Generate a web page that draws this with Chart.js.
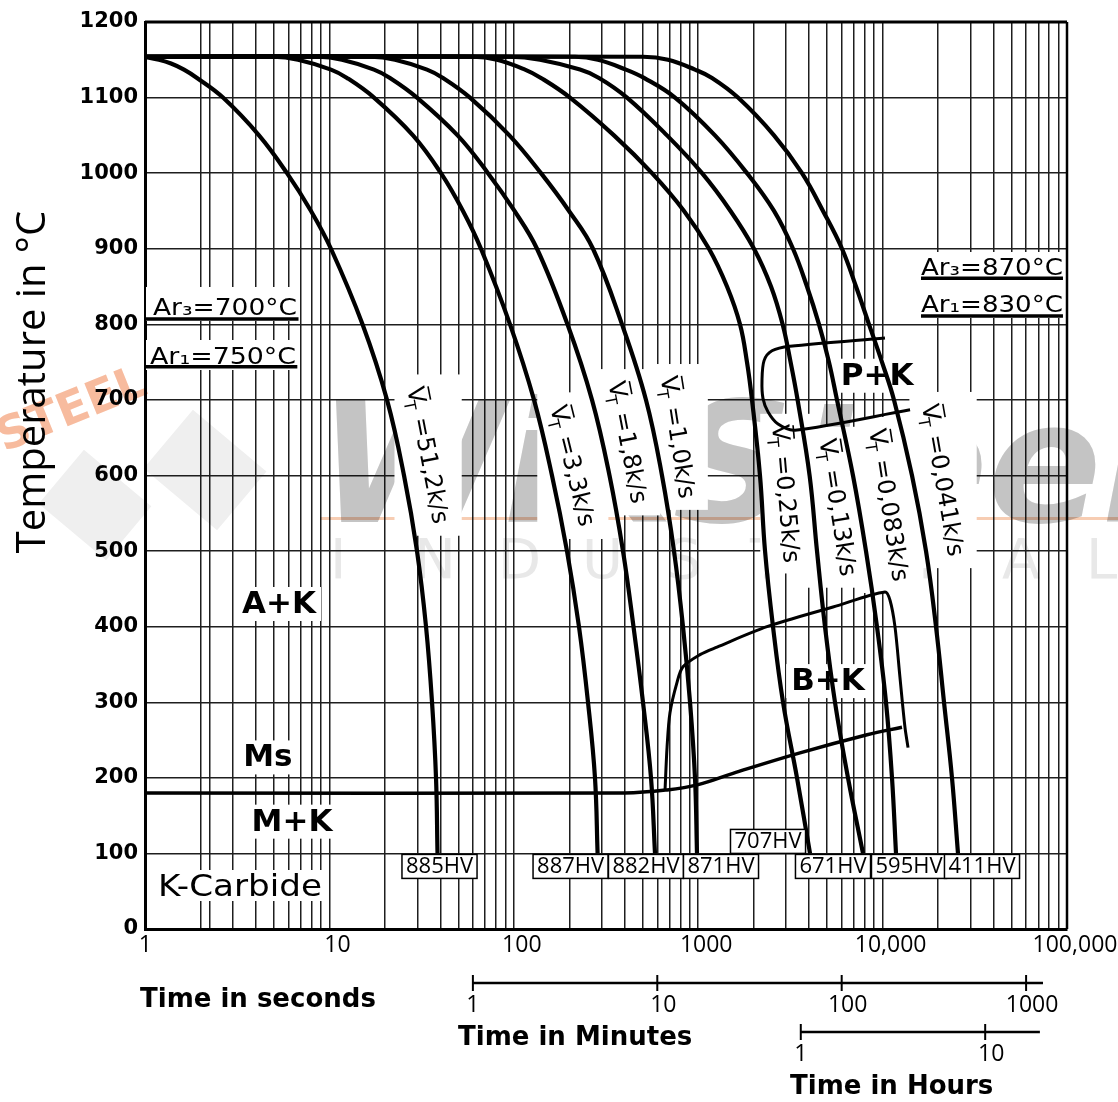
<!DOCTYPE html>
<html><head><meta charset="utf-8">
<script src="https://cdn.jsdelivr.net/npm/chart.js@4.4.1/dist/chart.umd.min.js"></script>
<style>html,body{margin:0;padding:0;background:#fff;overflow:hidden}canvas{display:block}</style>
</head><body>
<canvas id="c" width="1118" height="1102"></canvas>
<script>
// ---------------- DATA (time in s, temperature in °C) ----------------
const curveRates = ['51,2','3,3','1,8','1,0','0,25','0,13','0,083','0,041'];
const hardnessHV = ['885HV','887HV','882HV','871HV','707HV','671HV','595HV','411HV'];
const curve_51_2 = [[1,1154],[1.191,1150],[1.384,1145],[1.627,1137],[1.914,1126],[2.648,1100],[4.152,1050],[5.89,1000],[7.947,950],[10.2,900],[15.12,800],[20.53,700],[25.39,600],[29.86,500],[33.42,400],[36.02,300],[37.86,200],[38.57,100]];
const curve_3_3 = [[1,1154],[4.944,1154],[6.757,1150],[10.2,1137],[12.46,1126],[17.45,1100],[28.4,1050],[40.28,1000],[53.01,950],[66.37,900],[95.37,800],[128.7,700],[161.1,600],[194.3,500],[225.7,400],[252.6,300],[275.6,200],[284.7,100]];
const curve_1_8 = [[1,1154],[8.673,1154],[11.7,1150],[17.45,1137],[21.31,1126],[29.86,1100],[49.57,1050],[72.46,1000],[100.9,950],[133.6,900],[195.5,800],[265.5,700],[330.4,600],[391.0,500],[445.8,400],[501.9,300],[554.7,200],[583.1,100]];
const curve_1_0 = [[1,1154],[16.81,1154],[22.69,1150],[33.83,1137],[41.31,1126],[57.88,1100],[94.65,1050],[140.4,1000],[199.2,950],[268.8,900],[386.2,800],[521.1,700],[636.3,600],[739.2,500],[827.2,400],[902.9,300],[960.8,200],[985.1,100]];
const curve_0_25 = [[1,1154],[60.07,1154],[81.05,1150],[115.0,1137],[140.4,1126],[201.7,1100],[349.4,1050],[561.7,1000],[837.6,950],[1144,900],[1433,850],[1685,800],[1839,750],[1958,700],[2163,600],[2304,500],[2545,400],[2884,300],[3434,200],[4040,100]];
const curve_0_13 = [[1,1154],[95.37,1154],[138.7,1150],[228.6,1137],[289.8,1126],[411.0,1100],[677.3,1050],[1049,1000],[1497,950],[2007,900],[2482,850],[2869,800],[3170,750],[3460,700],[4019,600],[4408,500],[4871,400],[5519,300],[6492,200],[7829,100]];
const curve_0_083 = [[1,1154],[214.7,1154],[286.2,1150],[405.9,1137],[508.2,1126],[748.5,1100],[1233,1050],[1839,1000],[2577,950],[3267,900],[3890,850],[4520,800],[5120,750],[5658,700],[6909,600],[8128,500],[9323,400],[10434,300],[11246,200],[11822,100]];
const curve_0_041 = [[1,1154],[502,1154],[685.8,1150],[960.8,1137],[1188,1126],[1644,1100],[2577,1050],[3654,1000],[4751,950],[6023,900],[7173,850],[8438,800],[9925,750],[11530,700],[14436,600],[17199,500],[19482,400],[21530,300],[23785,200],[25637,100]];
const msLine = [[1,180],[400,180],[678,184],[1000,191],[1545,206],[3565,233],[8240,257],[12740,267]];
const bainiteLine = [[661,184],[678,241],[703,286],[767,326],[827,347],[1023,363],[1265,373],[2360,400],[5385,426],[10300,446],[10970,435],[11670,400],[12420,333],[13220,267],[13740,240]];
const pearliteLine = [[10300,782],[3147,771],[2512,765],[2276,752],[2218,726],[2245,702],[2393,684],[2710,668],[3350,660],[14090,687]];
const ar3Left = [[1,807],[6.8,807]];
const ar1Left = [[1,744],[6.7,744]];
const ar3Right = [[16150,861],[95100,861]];
const ar1Right = [[16150,811],[95100,811]];
const arLabels = ['Ar\u2083=700°C','Ar\u2081=750°C','Ar\u2083=870°C','Ar\u2081=830°C'];
const regionLabels = ['A+K','Ms','M+K','P+K','B+K'];
const xTickLabels = ['1','10','100','1000','10,000','100,000'];
const minuteTicks = [1,10,100,1000];
const hourTicks = [1,10];
const yMin = 0, yMax = 1200, yStep = 100;

const coolingCurves = [curve_51_2,curve_3_3,curve_1_8,curve_1_0,curve_0_25,curve_0_13,curve_0_083,curve_0_041];

// ---------------- layout of annotations (not data) ----------------
const curveLabelPos = [
  {t:34.3,T:627,a:79},{t:209,T:613,a:76},{t:416,T:644,a:79},{t:777,T:651,a:81},
  {t:2993,T:576,a:85},{t:5730,T:558,a:81},{t:10840,T:561,a:81},{t:21270,T:594,a:80}];
const regionPos = [{t:5.33,T:430},{t:4.64,T:227},{t:6.27,T:142},{t:9330,T:732},{t:5057,T:328}];
const hvOffsets = [2,-27,-9,24,-42,-30,13,24];
const hvRaised = [false,false,false,false,true,false,false,false];

const xGridValues = (()=>{const v=[];for(let k=0;k<5;k++)for(let m=1;m<10;m++)v.push(m*Math.pow(10,k));v.push(100000);v.push(2.25);return v.sort((a,b)=>a-b);})();

const toXY = arr => arr.map(p=>({x:p[0],y:p[1]}));
const ds = (arr,w,tension)=>({data:toXY(arr),borderColor:'#000',borderWidth:w,pointRadius:0,tension:tension,
  fill:false,borderCapStyle:'butt',borderJoinStyle:'round'});

const datasets = [];
coolingCurves.forEach(c=>datasets.push(ds(c,4.2,0.4)));
datasets.push(ds(msLine,3.5,0.4));
datasets.push(ds(bainiteLine,3,0.3));
datasets.push(ds(pearliteLine,3,0.3));
[ar3Left,ar1Left,ar3Right,ar1Right].forEach(a=>datasets.push(ds(a,3.5,0)));

function vLabelMetrics(ctx, rate){
  ctx.font='24px "DejaVu Sans"'; const wV=ctx.measureText('V').width;
  const rest=' ='+rate+'k/s'; const wR=ctx.measureText(rest).width;
  ctx.font='16px "DejaVu Sans"'; const wT=ctx.measureText('T').width;
  return {wV,wT,wR,rest,W:wV+wT*0.7+wR};
}
function rotBox(cx,cy,deg,hw,hh){
  const a=deg*Math.PI/180,c=Math.abs(Math.cos(a)),s=Math.abs(Math.sin(a));
  const bw=hw*c+hh*s,bh=hw*s+hh*c; return {x:cx-bw,y:cy-bh,w:2*bw,h:2*bh};
}
function drawVLabel(ctx,cx,cy,deg,rate){
  const m=vLabelMetrics(ctx,rate);
  ctx.save();ctx.translate(cx,cy);ctx.rotate(deg*Math.PI/180);
  ctx.fillStyle='#000';ctx.strokeStyle='#000';ctx.textBaseline='alphabetic';ctx.textAlign='left';
  let x=-m.W/2; const base=8;
  ctx.font='24px "DejaVu Sans"'; ctx.fillText('V',x,base);
  ctx.lineWidth=1.6;ctx.beginPath();ctx.moveTo(x+2,base-21);ctx.lineTo(x+m.wV-1,base-21);ctx.stroke();
  ctx.font='16px "DejaVu Sans"'; ctx.fillText('T',x+m.wV-4,base+6);
  ctx.font='24px "DejaVu Sans"'; ctx.fillText(m.rest,x+m.wV+m.wT*0.7,base);
  ctx.restore();
}
function stretchText(ctx,text,x,y,font,width,align){
  ctx.save();ctx.font=font;const w=ctx.measureText(text).width;const s=width/w;
  ctx.translate(align==='right'?x-width:x,y);ctx.scale(s,1);ctx.textAlign='left';ctx.fillText(text,0,0);ctx.restore();
}
function drawWatermark(ctx){
  ctx.save();
  ctx.globalCompositeOperation='multiply';
  ctx.fillStyle='#c4c4c4';ctx.textAlign='left';ctx.textBaseline='alphabetic';
  ctx.font='italic bold 168px "DejaVu Sans"';ctx.fillText('WikSteel',318,522);
  ctx.fillStyle='#f7cdb3';ctx.fillRect(320,517,798,3);
  ctx.fillStyle='#e8e8e8';ctx.font='56px "DejaVu Sans"';
  'INDUSTRIAL'.split('').forEach((ch,i)=>ctx.fillText(ch,330+i*84,578));
  ctx.save();ctx.translate(4,452);ctx.rotate(-22*Math.PI/180);ctx.fillStyle='#f7bb9e';ctx.font='bold 46px "DejaVu Sans"';ctx.fillText('STEEL',0,0);ctx.restore();
  ctx.fillStyle='#efefef';
  [[205,470,48],[95,505,44]].forEach(d=>{ctx.save();ctx.translate(d[0],d[1]);ctx.rotate(40*Math.PI/180);ctx.fillRect(-d[2],-d[2]*0.8,d[2]*2,d[2]*1.6);ctx.restore();});
  ctx.restore();
}

const annot = {
  id:'annot',
  beforeDatasetsDraw(chart){
    const ctx=chart.ctx,X=v=>chart.scales.x.getPixelForValue(v),Y=v=>chart.scales.y.getPixelForValue(v);
    drawWatermark(ctx);
    ctx.save();ctx.fillStyle='#fff';
    curveLabelPos.forEach((L,i)=>{const m=vLabelMetrics(ctx,curveRates[i]);const b=rotBox(X(L.t),Y(L.T),L.a,m.W/2+9,19);ctx.fillRect(b.x,b.y,b.w,b.h);});
    ctx.font='bold 31px "DejaVu Sans"';
    regionLabels.forEach((t,i)=>{const w=ctx.measureText(t).width;const cx=X(regionPos[i].t),cy=Y(regionPos[i].T);ctx.fillRect(cx-w/2-5,cy-17,w+10,34);});
    ctx.fillRect(157,870,166,31);
    ctx.fillRect(146,287,153,34);ctx.fillRect(146,340,153,30);
    ctx.fillRect(917,252,149,66);
    ctx.restore();
  },
  afterDatasetsDraw(chart){
    const ctx=chart.ctx,X=v=>chart.scales.x.getPixelForValue(v),Y=v=>chart.scales.y.getPixelForValue(v);
    const ca=chart.chartArea;
    ctx.save();
    ctx.strokeStyle='#000';ctx.lineWidth=3;ctx.beginPath();ctx.moveTo(ca.left,ca.top);ctx.lineTo(ca.right,ca.top);ctx.stroke();
    ctx.lineWidth=2.5;ctx.beginPath();ctx.moveTo(ca.right,ca.top);ctx.lineTo(ca.right,ca.bottom);ctx.stroke();
    curveLabelPos.forEach((L,i)=>drawVLabel(ctx,X(L.t),Y(L.T),L.a,curveRates[i]));
    ctx.fillStyle='#000';ctx.textAlign='center';ctx.textBaseline='middle';ctx.font='bold 31px "DejaVu Sans"';
    regionLabels.forEach((t,i)=>ctx.fillText(t,X(regionPos[i].t),Y(regionPos[i].T)+1));
    stretchText(ctx,'K-Carbide',158,888,'31px "DejaVu Sans"',164,'left');
    ctx.textBaseline='alphabetic';
    const arFont='23px "DejaVu Sans"';
    stretchText(ctx,arLabels[0],153,315,arFont,144,'left');
    stretchText(ctx,arLabels[1],150,364,arFont,146,'left');
    stretchText(ctx,arLabels[2],1063,275,arFont,142,'right');
    stretchText(ctx,arLabels[3],1063,312,arFont,142,'right');
    ctx.font='22px "Open Sans"';ctx.textAlign='center';ctx.textBaseline='middle';
    hardnessHV.forEach((t,i)=>{
      const c=coolingCurves[i];const ex=X(c[c.length-1][0])+hvOffsets[i];
      const w=ctx.measureText(t).width+8;const top=hvRaised[i]?Y(100)-24:Y(100)+1;
      ctx.fillStyle='#fff';ctx.fillRect(ex-w/2,top,w,24);
      ctx.strokeStyle='#000';ctx.lineWidth=1.5;ctx.strokeRect(ex-w/2,top,w,24);
      ctx.fillStyle='#000';ctx.fillText(t,ex,top+12.5);
    });
    ctx.restore();
  },
  afterDraw(chart){
    const ctx=chart.ctx,X=v=>chart.scales.x.getPixelForValue(v);
    ctx.save();ctx.fillStyle='#000';ctx.strokeStyle='#000';
    const yM=983,yH=1032;
    ctx.lineWidth=2.5;
    ctx.beginPath();ctx.moveTo(X(60),yM);ctx.lineTo(X(1235*60),yM);ctx.stroke();
    ctx.beginPath();ctx.moveTo(X(3600),yH);ctx.lineTo(X(19.8*3600),yH);ctx.stroke();
    ctx.lineWidth=2;
    ctx.font='23px "Open Sans"';ctx.textAlign='center';ctx.textBaseline='middle';
    minuteTicks.forEach(m=>{const x=X(m*60);ctx.beginPath();ctx.moveTo(x,yM-8);ctx.lineTo(x,yM+8);ctx.stroke();ctx.fillText(String(m),x+(m>1?6:0),yM+22);});
    hourTicks.forEach(h=>{const x=X(h*3600);ctx.beginPath();ctx.moveTo(x,yH-8);ctx.lineTo(x,yH+8);ctx.stroke();ctx.fillText(String(h),x+(h>1?6:0),yH+22);});
    ctx.textAlign='left';ctx.font='bold 26px "DejaVu Sans"';
    ctx.fillText('Time in seconds',140,1000);
    ctx.fillText('Time in Minutes',458,1038);
    ctx.fillText('Time in Hours',790,1087);
    ctx.save();ctx.translate(34,382);ctx.rotate(-Math.PI/2);ctx.textAlign='center';ctx.font='500 40px "Open Sans"';ctx.fillText('Temperature in °C',0,0);ctx.restore();
    ctx.restore();
  }
};

new Chart(document.getElementById('c'),{
  type:'line',
  data:{datasets},
  options:{
    responsive:false,animation:false,devicePixelRatio:1,
    layout:{padding:{top:22,right:51,bottom:0,left:0}},
    plugins:{legend:{display:false},tooltip:{enabled:false}},
    scales:{
      x:{type:'logarithmic',min:1,max:100000,position:'bottom',
        afterBuildTicks:s=>{s.ticks=xGridValues.map(v=>({value:v}));},
        afterFit:s=>{s.height=173;},
        ticks:{autoSkip:false,maxRotation:0,labelOffset:8,padding:3,color:'#000',font:{family:'Open Sans',size:23},
          callback:v=>{const k=Math.log10(v);if(Math.abs(k-Math.round(k))>1e-9)return '';const i=Math.round(k);return i===0?xTickLabels[0]+'\u2002\u2009':xTickLabels[i];}},
        grid:{color:'#1e1e1e',lineWidth:1.5,drawTicks:false},
        border:{display:true,color:'#000',width:3}},
      y:{type:'linear',min:yMin,max:yMax,
        afterFit:s=>{s.width=145;},
        ticks:{stepSize:yStep,padding:7,color:'#000',font:{family:'DejaVu Sans',weight:'bold',size:21},callback:v=>String(v)},
        grid:{color:'#1e1e1e',lineWidth:1.5,drawTicks:false},
        border:{display:true,color:'#000',width:3}}
    }
  },
  plugins:[annot]
});
</script>
</body></html>
